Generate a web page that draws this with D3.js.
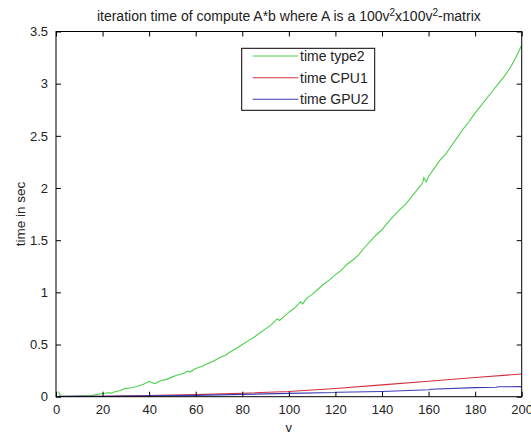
<!DOCTYPE html>
<html><head><meta charset="utf-8">
<script src="https://cdn.jsdelivr.net/npm/d3@7"></script>
<style>body{margin:0;background:#fff}svg{display:block}text{font-family:"Liberation Sans",Arial,sans-serif;fill:#222}</style>
</head><body><svg id="c" width="531" height="434"></svg>
<script>
const vType2 = [1,2,5,10,15,20,22.5,24,25,27.5,30,32.5,35,37.5,40,42.5,45,47.5,50,52.5,55,56.5,57.5,60,62.5,65,67.5,70,72.5,75,77.5,80,82.5,85,87.5,90,92.5,95,96,97.5,100,102.5,105,106,107.5,110,112.5,115,117.5,120,122.5,125,127.5,130,132.5,135,137.5,140,142.5,145,147.5,150,152.5,155,157.5,158,159,160,162.5,165,167.5,170,172.5,175,177.5,180,182.5,185,187.5,190,192.5,195,197.5,200];
const timeType2 = [0.05,0.005,0.005,0.008,0.01,0.03,0.038,0.034,0.045,0.06,0.08,0.086,0.10,0.12,0.145,0.126,0.155,0.166,0.19,0.21,0.225,0.246,0.236,0.27,0.29,0.315,0.34,0.37,0.395,0.43,0.465,0.50,0.535,0.57,0.61,0.65,0.69,0.745,0.73,0.76,0.81,0.85,0.91,0.89,0.94,0.98,1.03,1.08,1.12,1.17,1.21,1.27,1.31,1.36,1.43,1.49,1.55,1.60,1.67,1.73,1.79,1.84,1.91,1.98,2.05,2.10,2.06,2.11,2.19,2.27,2.33,2.41,2.49,2.57,2.64,2.72,2.79,2.86,2.93,3.00,3.07,3.15,3.25,3.37];
const vCPU = [1,20,40,60,80,100,120,140,160,180,200];
const timeCPU1 = [0.002,0.004,0.01,0.02,0.033,0.05,0.078,0.113,0.148,0.184,0.218];
const vGPU = [1,20,40,60,80,100,120,121,140,160,161,180,189,190,200];
const timeGPU2 = [0.004,0.005,0.008,0.013,0.022,0.032,0.040,0.043,0.050,0.066,0.072,0.087,0.091,0.095,0.097];
const xTicks = [0,20,40,60,80,100,120,140,160,180,200];
const yTicks = [0,0.5,1,1.5,2,2.5,3,3.5];
const legendLabels = ["time type2","time CPU1","time GPU2"];
const colors = ["#4cd24c","#d0303c","#3c3cb4"];

const svg = d3.select("#c");
const L=56, R=521.7, T=31.5, B=396.7;
const x = d3.scaleLinear().domain([0,200]).range([L,R]);
const y = d3.scaleLinear().domain([0,3.5]).range([B,T]);

const series = [
  vType2.map((v,i)=>[v,timeType2[i]]),
  vCPU.map((v,i)=>[v,timeCPU1[i]]),
  vGPU.map((v,i)=>[v,timeGPU2[i]])
];
const line = d3.line().x(d=>x(d[0])).y(d=>y(d[1]));
const g = svg.append("g");
series.forEach((s,i)=>{
  g.append("path").attr("d",line(s)).attr("fill","none").attr("stroke",colors[i]).attr("stroke-width",1.1);
});

// axes
const fs = "13px";
const bx = svg.append("g").attr("transform",`translate(0,${B})`).call(d3.axisBottom(x).tickValues(xTicks).tickSize(-5).tickPadding(8).tickFormat(d3.format("d")));
const tx = svg.append("g").attr("transform",`translate(0,${T})`).call(d3.axisTop(x).tickValues(xTicks).tickSize(-5).tickFormat(""));
const ly = svg.append("g").attr("transform",`translate(${L},0)`).call(d3.axisLeft(y).tickValues(yTicks).tickSize(-5).tickPadding(8).tickFormat(d=>d3.format("~g")(d)));
const ry = svg.append("g").attr("transform",`translate(${R},0)`).call(d3.axisRight(y).tickValues(yTicks).tickSize(-5).tickFormat(""));
[bx,tx,ly,ry].forEach(a=>{
  a.selectAll(".domain").remove();
  a.selectAll("line").attr("stroke","#000");
  a.selectAll("text").style("font-size",fs).attr("fill","#222");
});
bx.selectAll("text").attr("dy","0.71em");
svg.append("rect").attr("x",L).attr("y",T).attr("width",R-L).attr("height",B-T).attr("fill","none").attr("stroke","#000").attr("stroke-width",1);

// labels
svg.append("text").attr("x",(L+R)/2).attr("y",432).attr("text-anchor","middle").style("font-size","13px").text("v");
svg.append("text").attr("transform",`translate(25,${(T+B)/2}) rotate(-90)`).attr("text-anchor","middle").style("font-size","13.5px").text("time in sec");
const title = svg.append("text").attr("x",(L+R)/2).attr("y",21).attr("text-anchor","middle").style("font-size","14px");
title.append("tspan").text("iteration time of compute A*b where A is a 100v");
title.append("tspan").attr("dy",-5).style("font-size","10px").text("2");
title.append("tspan").attr("dy",5).text("x100v");
title.append("tspan").attr("dy",-5).style("font-size","10px").text("2");
title.append("tspan").attr("dy",5).text("-matrix");

// legend
const lg = svg.append("g");
lg.append("rect").attr("x",241.7).attr("y",48.3).attr("width",133).attr("height",62).attr("fill","#fff").attr("stroke","#000");
const rowY = [56,77.7,99.3];
legendLabels.forEach((lab,i)=>{
  lg.append("line").attr("x1",252.7).attr("x2",298.3).attr("y1",rowY[i]).attr("y2",rowY[i]).attr("stroke",colors[i]).attr("stroke-width",1.1);
  lg.append("text").attr("x",300).attr("y",rowY[i]).attr("dy","0.35em").style("font-size","14px").text(lab);
});
</script></body></html>
